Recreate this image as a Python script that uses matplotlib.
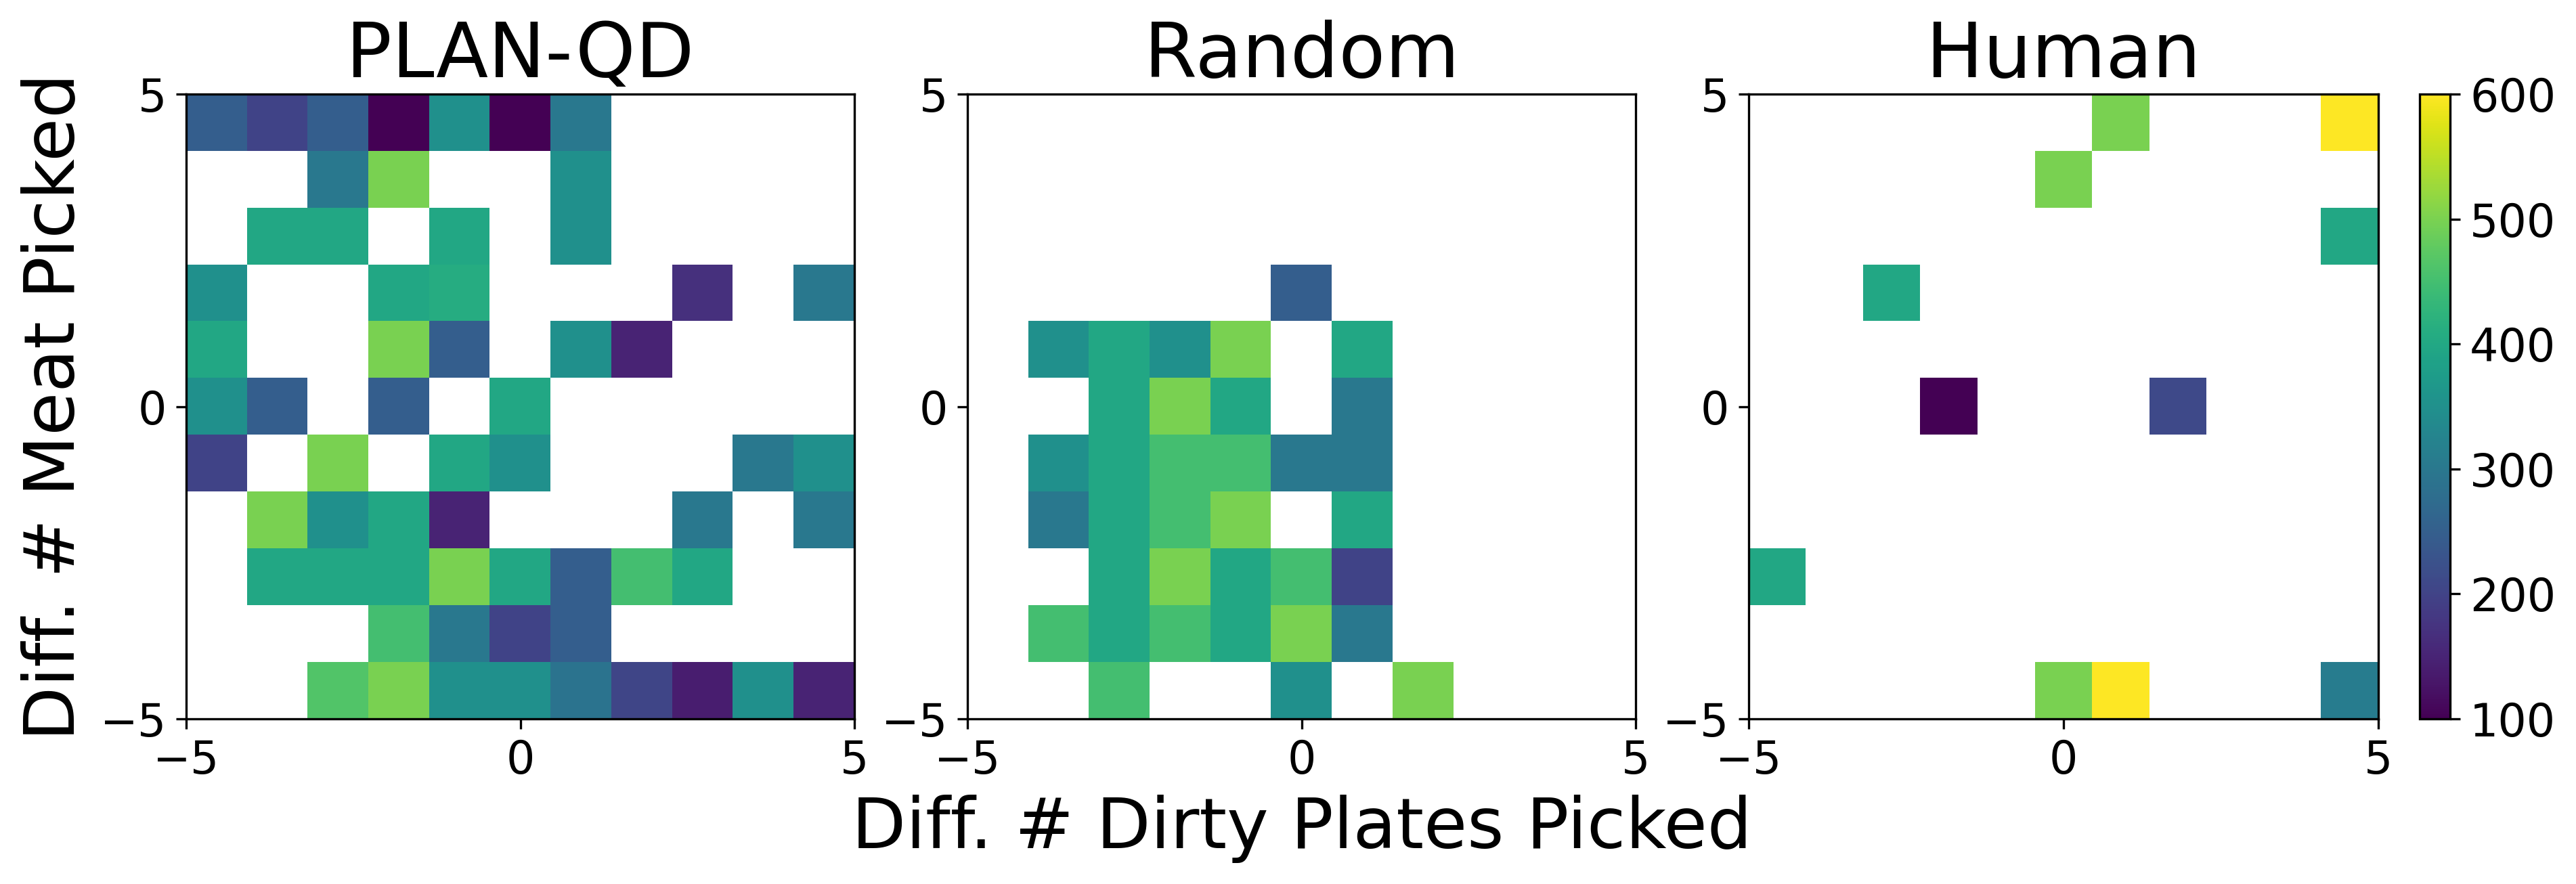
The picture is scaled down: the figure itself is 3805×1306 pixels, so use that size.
import numpy as np
import matplotlib
matplotlib.use("Agg")
import matplotlib.pyplot as plt

N = None
# rows: y = 5 (top) ... -5 (bottom); columns: x = -5 ... 5
plan_qd = [
    [250, 200, 250, 100, 350, 100, 300, N, N, N, N],
    [N, N, 300, 500, N, N, 350, N, N, N, N],
    [N, 400, 400, N, 400, N, 350, N, N, N, N],
    [350, N, N, 400, 410, N, N, N, 170, N, 300],
    [400, N, N, 500, 250, N, 350, 150, N, N, N],
    [350, 250, N, 250, N, 400, N, N, N, N, N],
    [200, N, 500, N, 400, 350, N, N, N, 300, 350],
    [N, 500, 350, 400, 150, N, N, N, 300, N, 300],
    [N, 400, 400, 400, 500, 400, 250, 450, 400, N, N],
    [N, N, N, 450, 300, 200, 250, N, N, N, N],
    [N, N, 465, 500, 350, 350, 290, 205, 140, 350, 150],
]
random_ = [
    [N, N, N, N, N, N, N, N, N, N, N],
    [N, N, N, N, N, N, N, N, N, N, N],
    [N, N, N, N, N, N, N, N, N, N, N],
    [N, N, N, N, N, 250, N, N, N, N, N],
    [N, 350, 400, 350, 500, N, 400, N, N, N, N],
    [N, N, 400, 500, 400, N, 300, N, N, N, N],
    [N, 350, 400, 450, 450, 300, 300, N, N, N, N],
    [N, 300, 400, 450, 500, N, 400, N, N, N, N],
    [N, N, 400, 500, 400, 450, 200, N, N, N, N],
    [N, 450, 400, 450, 400, 500, 300, N, N, N, N],
    [N, N, 450, N, N, 350, N, 500, N, N, N],
]
human = [
    [N, N, N, N, N, N, 500, N, N, N, 600],
    [N, N, N, N, N, 500, N, N, N, N, N],
    [N, N, N, N, N, N, N, N, N, N, 400],
    [N, N, 400, N, N, N, N, N, N, N, N],
    [N, N, N, N, N, N, N, N, N, N, N],
    [N, N, N, 100, N, N, N, 210, N, N, N],
    [N, N, N, N, N, N, N, N, N, N, N],
    [N, N, N, N, N, N, N, N, N, N, N],
    [400, N, N, N, N, N, N, N, N, N, N],
    [N, N, N, N, N, N, N, N, N, N, N],
    [N, N, N, N, N, 500, 600, N, N, N, 310],
]
titles = ["PLAN-QD", "Random", "Human"]
ticks = [-5, 0, 5]
cbar_ticks = [100, 200, 300, 400, 500, 600]

W, H = 3805, 1306
fig = plt.figure(figsize=(W / 300, H / 300), dpi=300)

def frac(x0, x1):
    return x0 / W, (x1 - x0) / W

bottom = (H - 1062) / H
height = (1062 - 139) / H
lefts = [(275, 1262), (1429, 2416), (2583, 3513)]
axes = []
for (x0, x1) in lefts:
    l, w = frac(x0, x1)
    axes.append(fig.add_axes([l, bottom, w, height]))

for ax, data, title in zip(axes, [plan_qd, random_, human], titles):
    arr = np.array([[np.nan if v is None else v for v in row] for row in data], dtype=float)
    arr = np.ma.masked_invalid(arr)
    im = ax.imshow(arr, cmap="viridis", vmin=100, vmax=600, extent=[-5, 5, -5, 5],
                   origin="upper", aspect="auto", interpolation="nearest")
    ax.set_xticks(ticks)
    ax.set_yticks(ticks)
    ax.tick_params(labelsize=16)
    ax.set_title(title, fontsize=27)

axes[0].set_ylabel("Diff. # Meat Picked", fontsize=25)
axes[1].set_xlabel("Diff. # Dirty Plates Picked", fontsize=25)

cl, cw = frac(3574, 3619)
cax = fig.add_axes([cl, bottom, cw, height])
cb = fig.colorbar(im, cax=cax, ticks=cbar_ticks)
cb.ax.tick_params(labelsize=16)

fig.savefig("out.png", dpi=300)
